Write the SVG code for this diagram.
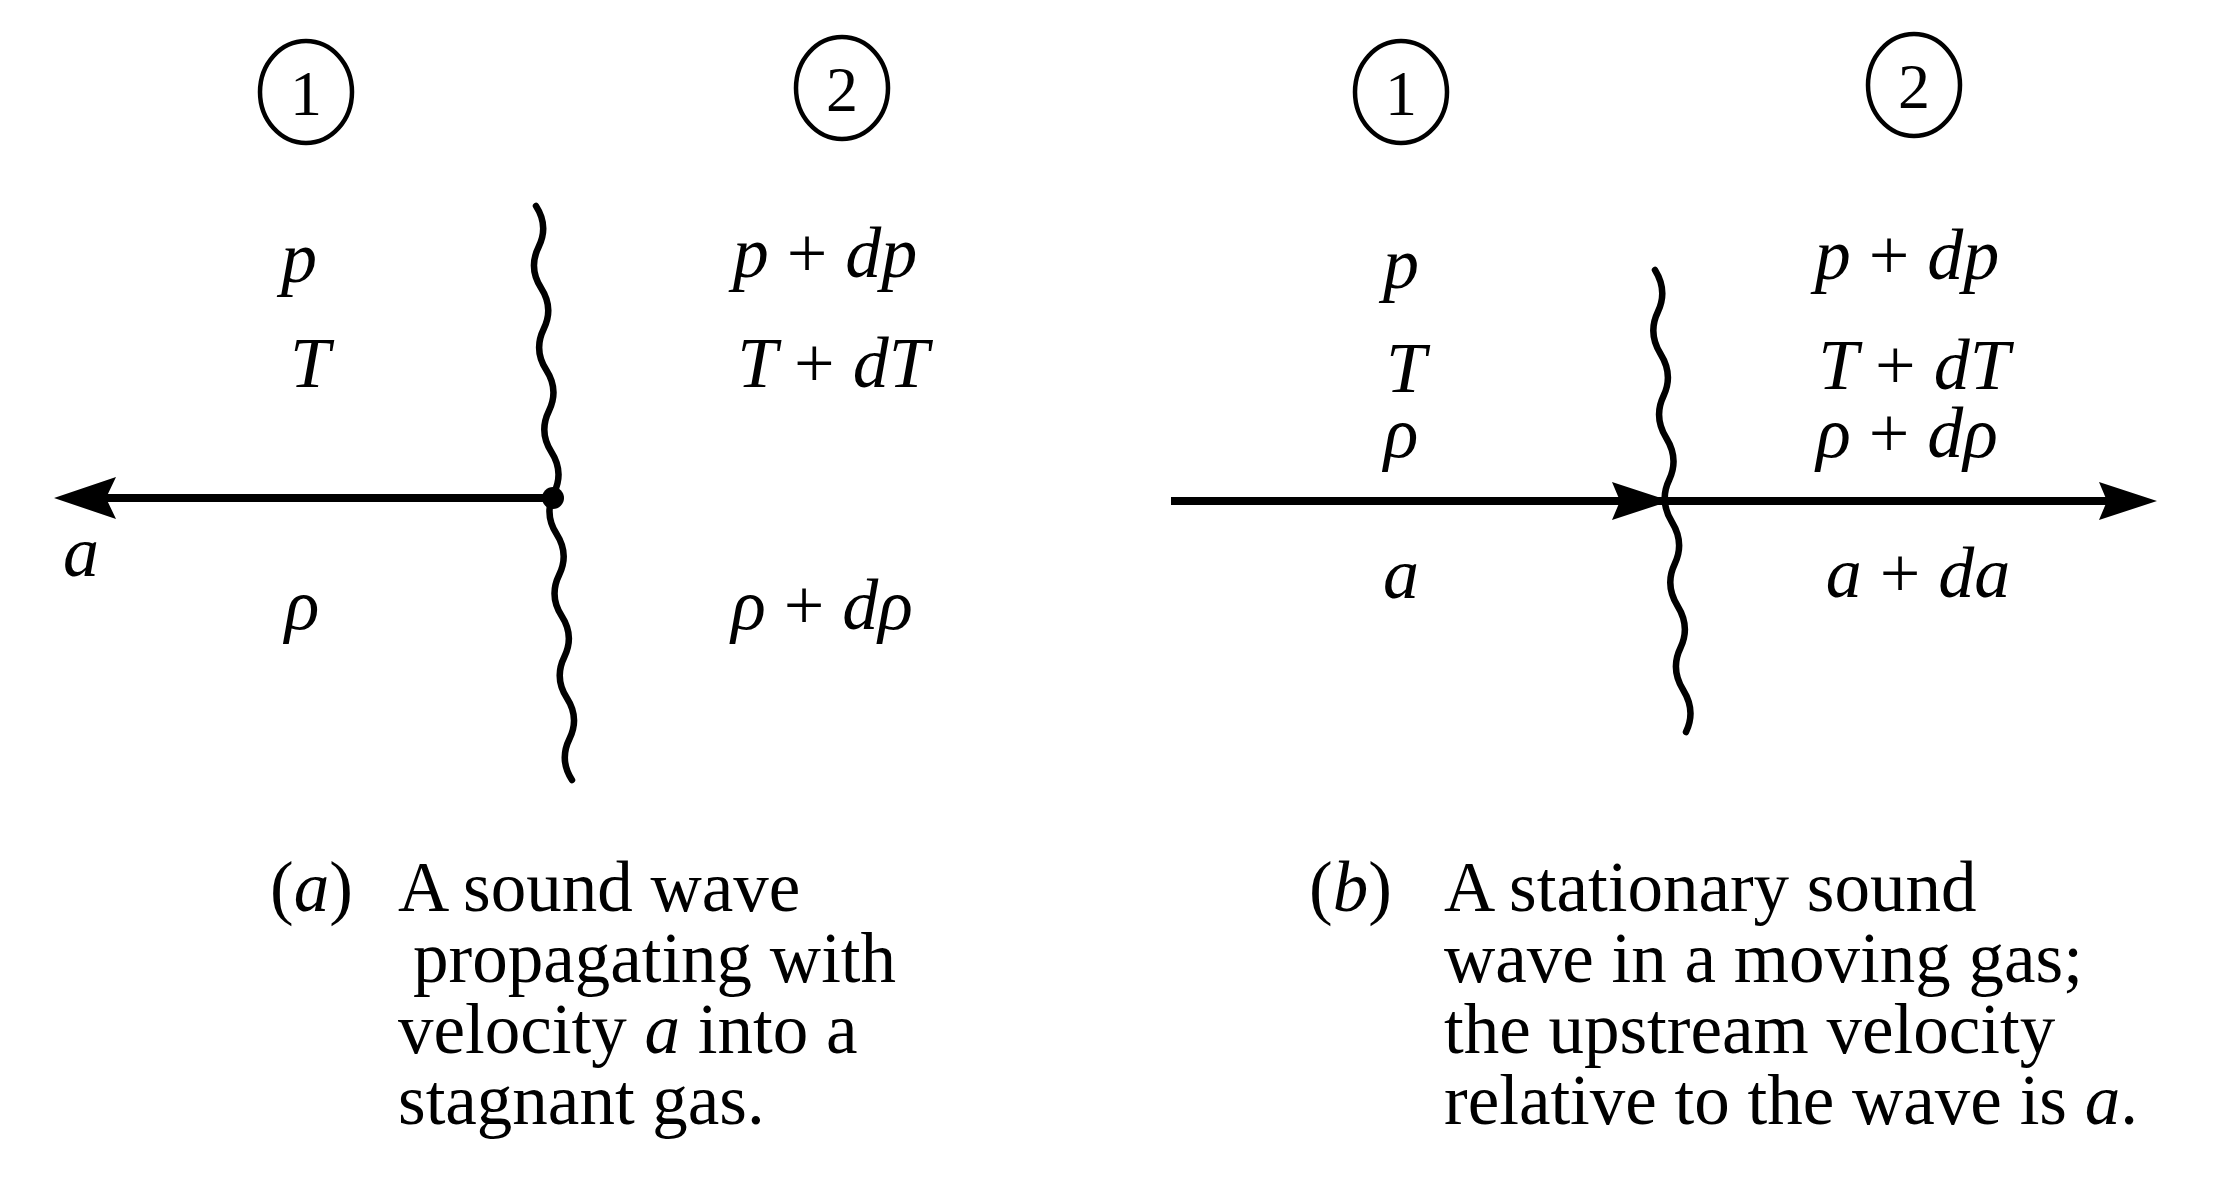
<svg xmlns="http://www.w3.org/2000/svg" width="2231" height="1185" viewBox="0 0 2231 1185">
<style>
.t{font-family:"Liberation Serif","Times New Roman",serif;fill:#000}
.v{font-size:72px;font-style:italic}
.up{font-style:normal}
.num{font-size:64px}
.cap{font-size:71px}
.ring{fill:none;stroke:#000;stroke-width:4.5}
.wave{fill:none;stroke:#000;stroke-width:6.5;stroke-linecap:round}
.shaft{stroke:#000;stroke-width:8}
</style>
<rect width="2231" height="1185" fill="#fff"/>
<g id="panel-a">
  <g id="a-station1"><ellipse class="ring" cx="306" cy="92" rx="46" ry="51"/><text class="t num" x="306" y="115" text-anchor="middle">1</text></g>
  <g id="a-station2"><ellipse class="ring" cx="842" cy="88" rx="46" ry="51"/><text class="t num" x="842" y="111" text-anchor="middle">2</text></g>
  <g id="a-region1">
    <text class="t v" x="299" y="282" text-anchor="middle">p</text>
    <text class="t v" x="310" y="387" text-anchor="middle">T</text>
    <text class="t v" x="302" y="629" text-anchor="middle">ρ</text>
  </g>
  <g id="a-region2">
    <text class="t v" x="825" y="277" text-anchor="middle">p <tspan class="up">+</tspan> dp</text>
    <text class="t v" x="833" y="387" text-anchor="middle">T <tspan class="up">+</tspan> dT</text>
    <text class="t v" x="822" y="629" text-anchor="middle">ρ <tspan class="up">+</tspan> dρ</text>
  </g>
  <g id="a-wave"><path class="wave" d="M536,206 Q549,226 538.6,247 T541.1,288 T543.7,329 T546.3,370 T548.9,411 T551.4,452 T554,493 T556.6,534 T559.1,575 T561.7,616 T564.3,657 T566.9,698 T569.4,739 T572,780"/></g>
  <g id="a-label"><text class="t v" x="81" y="576" text-anchor="middle">a</text></g>
  <g id="a-caption" class="t cap">
    <text x="270" y="911">(<tspan font-style="italic">a</tspan>)</text>
    <text x="398" y="911">A sound wave</text>
    <text x="413" y="982">propagating with</text>
    <text x="398" y="1053">velocity <tspan font-style="italic">a</tspan> into a</text>
    <text x="398" y="1124">stagnant gas.</text>
  </g>
</g>
<g id="panel-b">
  <g id="b-station1"><ellipse class="ring" cx="1401" cy="92" rx="46" ry="51"/><text class="t num" x="1401" y="115" text-anchor="middle">1</text></g>
  <g id="b-station2"><ellipse class="ring" cx="1914" cy="85" rx="46" ry="51"/><text class="t num" x="1914" y="108" text-anchor="middle">2</text></g>
  <g id="b-region1">
    <text class="t v" x="1401" y="288" text-anchor="middle">p</text>
    <text class="t v" x="1406" y="392" text-anchor="middle">T</text>
    <text class="t v" x="1401" y="457" text-anchor="middle">ρ</text>
    <text class="t v" x="1401" y="598" text-anchor="middle">a</text>
  </g>
  <g id="b-region2">
    <text class="t v" x="1907" y="279" text-anchor="middle">p <tspan class="up">+</tspan> dp</text>
    <text class="t v" x="1914" y="389" text-anchor="middle">T <tspan class="up">+</tspan> dT</text>
    <text class="t v" x="1907" y="457" text-anchor="middle">ρ <tspan class="up">+</tspan> dρ</text>
    <text class="t v" x="1918" y="597" text-anchor="middle">a <tspan class="up">+</tspan> da</text>
  </g>
  <g id="b-wave"><path class="wave" d="M1655,270 Q1668,291 1657.8,312 T1660.6,354 T1663.5,396 T1666.3,438 T1669.1,480 T1671.9,522 T1674.7,564 T1677.6,606 T1680.4,648 T1683.2,690 T1686,732"/></g>
  <g id="b-caption" class="t cap">
    <text x="1309" y="911">(<tspan font-style="italic">b</tspan>)</text>
    <text x="1444" y="911">A stationary sound</text>
    <text x="1444" y="982">wave in a moving gas;</text>
    <text x="1444" y="1053">the upstream velocity</text>
    <text x="1444" y="1124">relative to the wave is <tspan font-style="italic">a</tspan>.</text>
  </g>
</g>
<g id="connectors">
  <line class="shaft" x1="553" y1="498" x2="100" y2="498"/>
  <polygon points="54,498 116,477 106,498 116,519" fill="#000"/>
  <circle cx="553" cy="498" r="11" fill="#000"/>
  <line class="shaft" x1="1171" y1="501" x2="2110" y2="501"/>
  <polygon points="1670,501 1612,482 1620,501 1612,520" fill="#000"/>
  <polygon points="2157,501 2099,482 2107,501 2099,520" fill="#000"/>
</g>
</svg>
